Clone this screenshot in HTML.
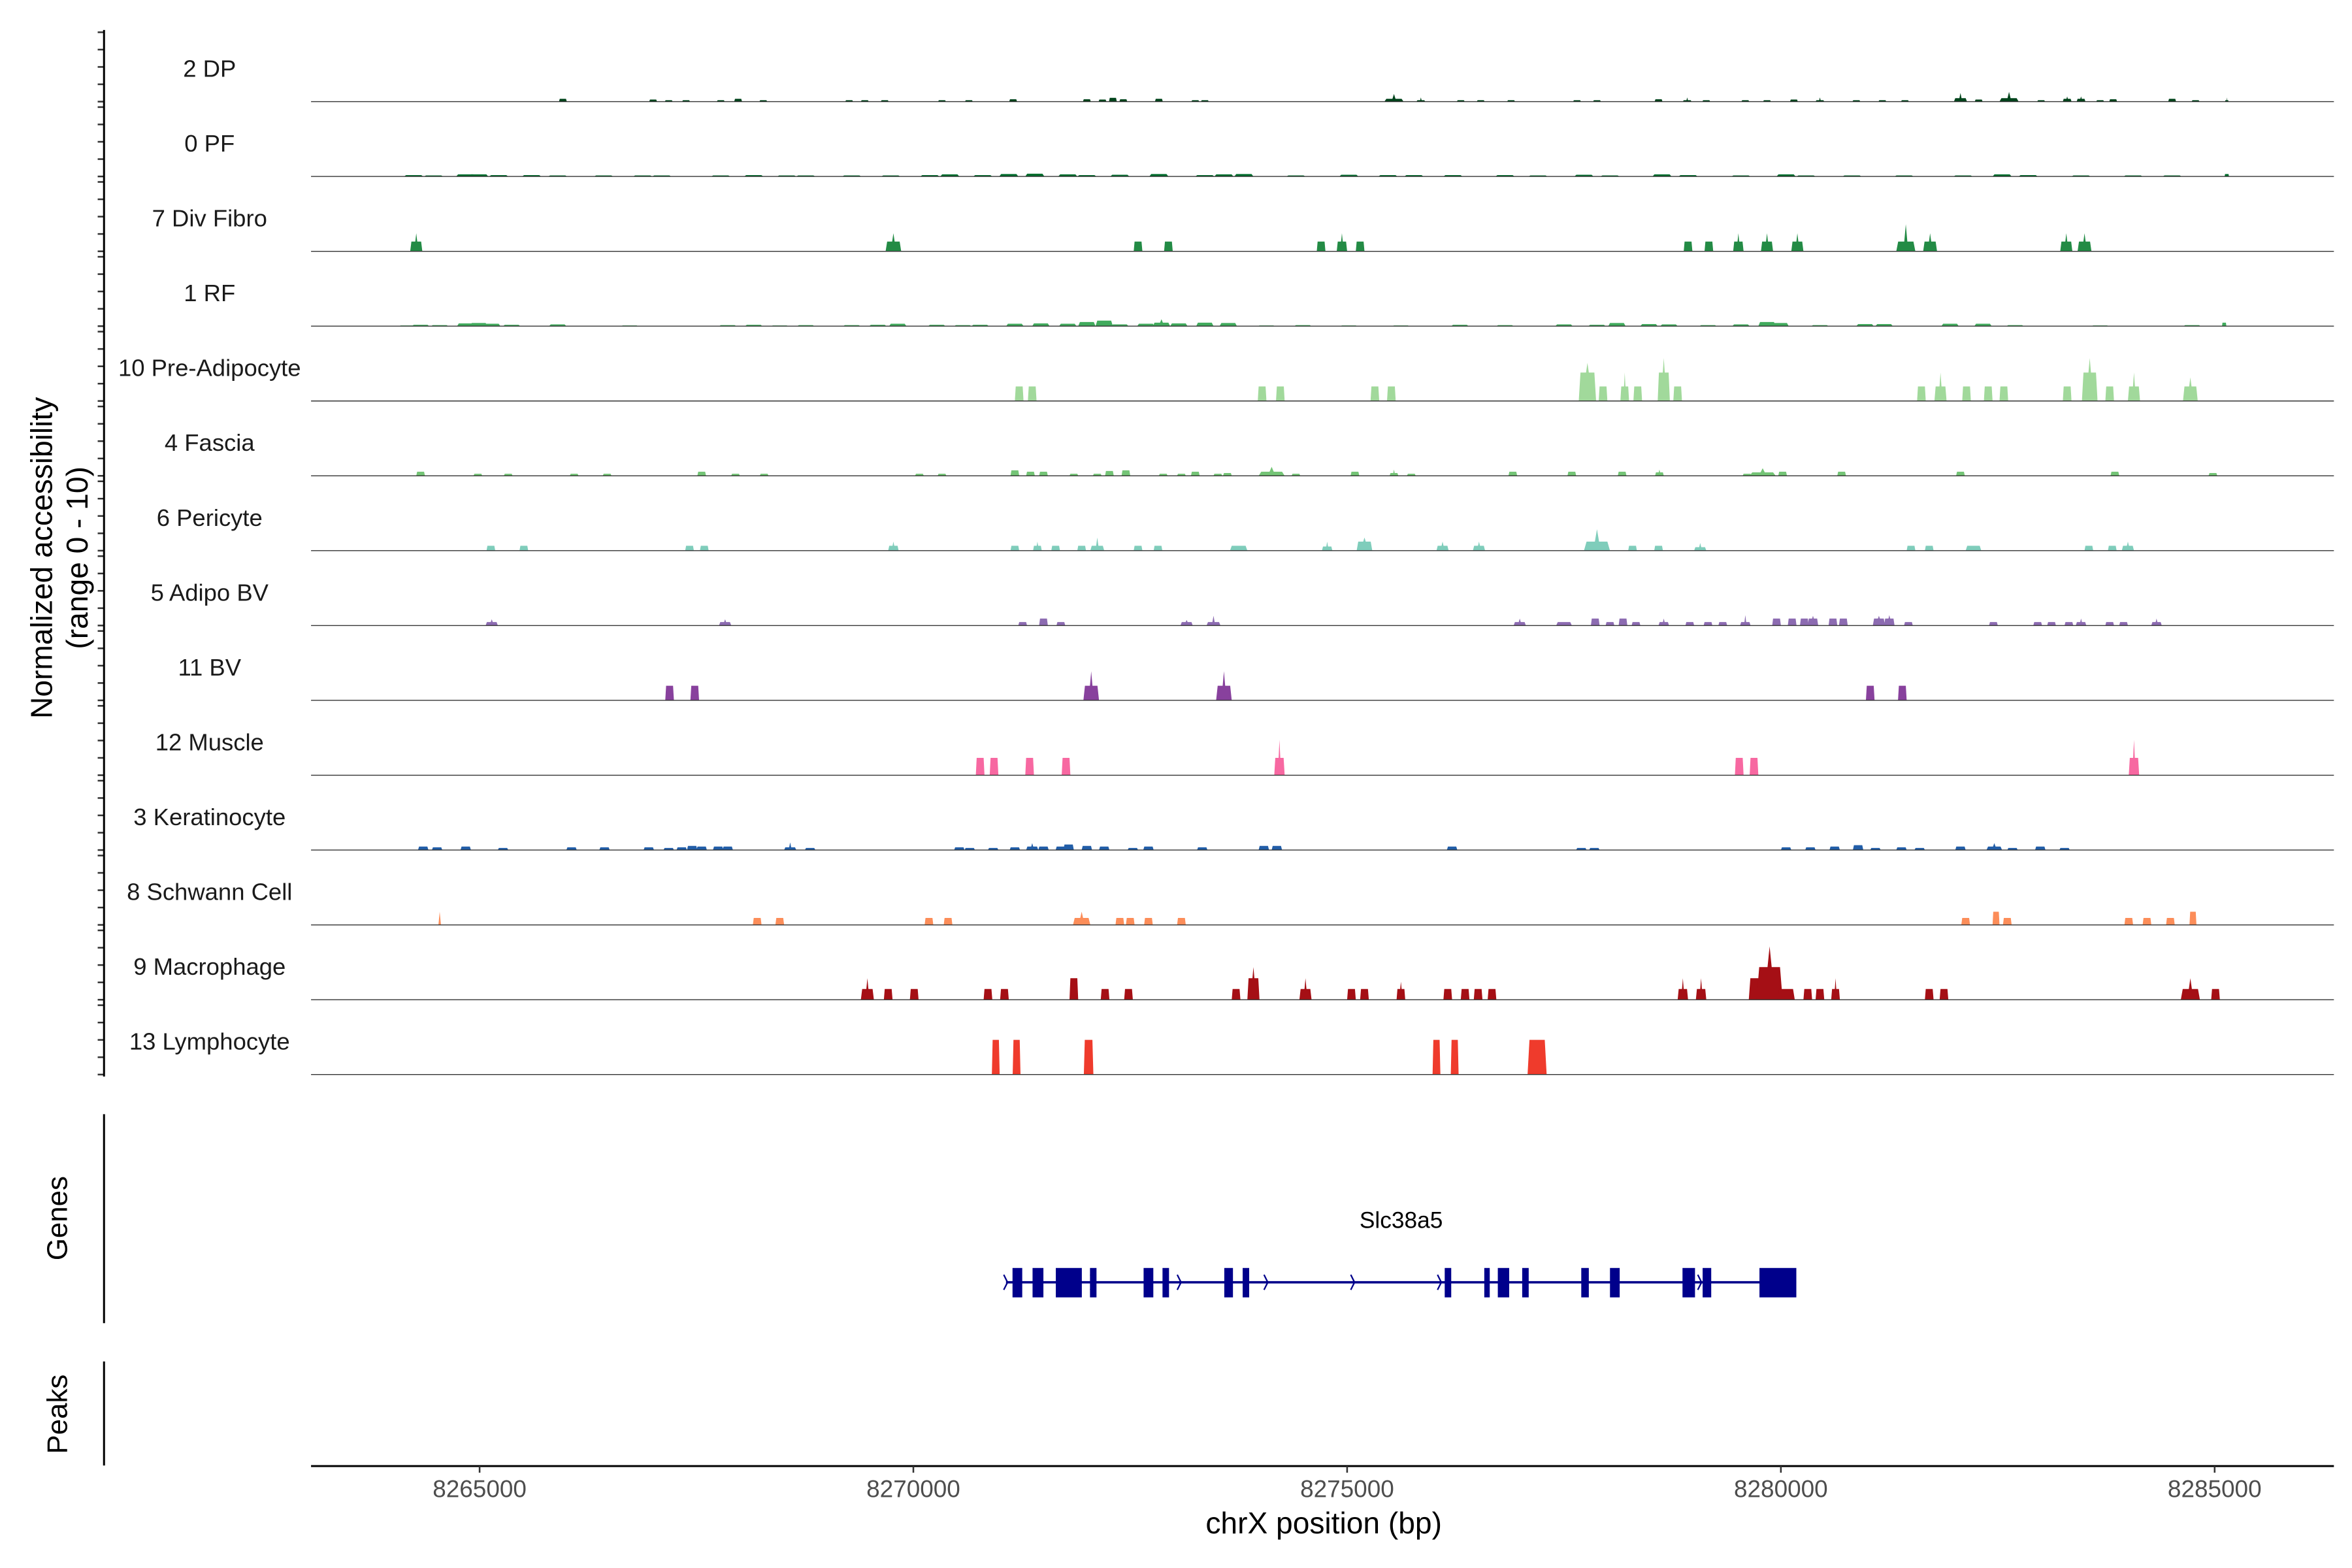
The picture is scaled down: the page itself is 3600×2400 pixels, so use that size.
<!DOCTYPE html>
<html><head><meta charset="utf-8">
<style>
html,body{margin:0;padding:0;background:#fff;}
svg{display:block;}
text{font-family:"Liberation Sans",Arial,sans-serif;}
</style></head>
<body>
<svg id="chart" xmlns="http://www.w3.org/2000/svg" width="3600" height="2400" viewBox="0 0 1560 1040">
<rect x="0" y="0" width="1560" height="1040" fill="#fff"/>
<g id="tracks"></g>
<g id="genes"></g>
<g id="axes"></g>
</svg>
<script>
// ---- data (genomic positions in kb, accessibility values 0-10) ----
const trackNames = ["2 DP","0 PF","7 Div Fibro","1 RF","10 Pre-Adipocyte","4 Fascia","6 Pericyte","5 Adipo BV","11 BV","12 Muscle","3 Keratinocyte","8 Schwann Cell","9 Macrophage","13 Lymphocyte"];
const trackColors = ["#00441b","#006d2c","#238b45","#41ab5d","#a1d99b","#74c476","#7fcdbb","#8c6bb1","#88419d","#f768a1","#225ea8","#fc8d59","#a50f15","#ef3b2c"];
const xTicks = [8265000,8270000,8275000,8280000,8285000];
const yRange = [0,10];

// peaks: [position kb, value, width kb (optional), plateau (optional)]
const peaksDP = [[8265.96,.4],[8267.00,.3],[8267.18,.2],[8267.38,.2],[8267.78,.2],[8267.98,.4],[8268.27,.2],[8269.26,.2],[8269.44,.2],[8269.67,.2],[8270.33,.2],[8270.64,.2],[8271.15,.35],[8272.00,.35],[8272.18,.3],[8272.30,.55],[8272.42,.35],[8272.83,.4],[8273.25,.2],[8273.36,.2],[8275.54,1.1,.22,.4],[8275.85,.6,.1,.2],[8276.31,.2],[8276.54,.2],[8276.89,.2],[8277.65,.2],[8277.88,.2],[8278.59,.35],[8278.92,.6,.1,.2],[8279.14,.2],[8279.59,.2],[8279.84,.2],[8280.15,.3],[8280.45,.6,.1,.2],[8280.87,.2],[8281.17,.2],[8281.43,.2],[8282.07,1.25,.15,.5],[8282.28,.3],[8282.63,1.4,.22,.5],[8283.00,.2],[8283.30,.75,.1,.4],[8283.46,.75,.1,.4],[8283.68,.2],[8283.83,.35],[8284.51,.4],[8284.78,.2],[8285.14,.6,.04,.2]];
const peaksPF = [[8264.24,.2],[8264.47,.15],[8264.84,.3],[8264.99,.3],[8265.22,.2],[8265.60,.2],[8265.90,.15],[8266.43,.15],[8266.88,.15],[8267.10,.15],[8267.78,.15],[8268.16,.2],[8268.54,.15],[8268.76,.15],[8269.29,.15],[8269.74,.15],[8270.19,.2],[8270.42,.3],[8270.80,.2],[8271.10,.35],[8271.40,.4],[8271.78,.3],[8272.00,.2],[8272.38,.25],[8272.83,.35],[8273.36,.2],[8273.58,.3],[8273.81,.35],[8274.41,.15],[8275.02,.25],[8275.47,.2],[8275.77,.2],[8276.22,.2],[8276.82,.2],[8277.20,.15],[8277.73,.25],[8278.03,.15],[8278.63,.3],[8278.93,.2],[8279.54,.15],[8280.06,.3],[8280.29,.15],[8280.82,.15],[8281.42,.15],[8282.10,.15],[8282.55,.3],[8282.85,.2],[8283.46,.15],[8284.06,.15],[8284.51,.15],[8285.14,.35,.05]];
const peaksDivFibro = [[8264.27,2.6,.14,1.4],[8269.77,2.6,.18,1.4],[8272.59,1.4],[8272.94,1.4],[8274.70,1.4],[8274.94,2.6,.12,1.4],[8275.15,1.4],[8278.93,1.4],[8279.17,1.4],[8279.51,2.6,.12,1.4],[8279.84,2.6,.14,1.4],[8280.19,2.6,.14,1.4],[8281.44,3.9,.22,1.4],[8281.72,2.6,.16,1.4],[8283.29,2.6,.14,1.4],[8283.50,2.6,.16,1.4]];
const peaksRF = [[8264.17,.1],[8264.32,.2],[8264.54,.15],[8264.84,.4],[8264.99,.45],[8265.14,.35],[8265.37,.2],[8265.90,.25],[8266.73,.1],[8267.86,.15],[8268.16,.2],[8268.46,.1],[8268.76,.15],[8269.29,.15],[8269.59,.2],[8269.82,.35],[8270.27,.2],[8270.57,.15],[8270.77,.2],[8271.17,.35],[8271.47,.4],[8271.78,.35],[8272.00,.6],[8272.20,.8],[8272.38,.25],[8272.68,.35],[8272.86,1.0,.2,.5],[8273.06,.4],[8273.36,.5],[8273.63,.45],[8274.07,.1],[8274.49,.15],[8275.02,.1],[8275.62,.1],[8276.30,.2],[8276.82,.15],[8277.50,.25],[8277.88,.2],[8278.11,.45],[8278.48,.3],[8278.71,.25],[8279.16,.15],[8279.54,.25],[8279.84,.6],[8279.99,.45],[8280.45,.15],[8280.97,.3],[8281.19,.3],[8281.95,.35],[8282.33,.35],[8282.70,.15],[8283.68,.1],[8284.74,.15],[8285.11,.5,.05]];
const peaksPreAdipo = [[8271.22,2.1],[8271.37,2.1],[8274.02,2.1],[8274.23,2.1],[8275.32,2.1],[8275.51,2.1],[8277.77,5.5,.2,4.1],[8277.95,2.1],[8278.20,4.1,.1,2.1],[8278.35,2.1],[8278.65,6.2,.14,4.1],[8278.81,2.1],[8281.62,2.1],[8281.84,4.1,.14,2.1],[8282.14,2.1],[8282.39,2.1],[8282.57,2.1],[8283.30,2.1],[8283.56,6.2,.18,4.1],[8283.79,2.1],[8284.07,4.1,.14,2.1],[8284.72,3.4,.17,2.1]];
const peaksFascia = [[8264.32,.6],[8264.98,.3],[8265.33,.3],[8266.09,.3],[8266.47,.3],[8267.56,.6],[8267.95,.3],[8268.28,.3],[8270.07,.3],[8270.33,.3],[8271.17,.8],[8271.35,.6],[8271.50,.6],[8271.85,.3],[8272.12,.3],[8272.26,.7],[8272.45,.8],[8272.88,.3],[8273.09,.3],[8273.25,.6],[8273.51,.3],[8273.62,.4],[8274.13,1.3,.3,.6],[8274.41,.3],[8275.09,.6],[8275.54,.9,.1,.4],[8275.74,.3],[8276.91,.6],[8277.59,.6],[8278.17,.6],[8278.60,.9,.1,.5],[8279.61,.3],[8279.79,1.1,.3,.5],[8280.02,.6],[8280.70,.6],[8282.07,.6],[8283.85,.6],[8284.98,.4]];
const peaksPericyte = [[8265.13,.7],[8265.51,.7],[8267.42,.7],[8267.59,.7],[8269.77,1.3,.12,.7],[8271.17,.7],[8271.43,1.3,.1,.7],[8271.64,.7],[8271.94,.7],[8272.12,1.9,.16,.7],[8272.59,.7],[8272.82,.7],[8273.75,.7,.2],[8274.77,1.3,.12,.6],[8275.20,1.9,.18,1.3],[8276.10,1.3,.14,.7],[8276.52,1.3,.14,.7],[8277.88,3.1,.3,1.3],[8278.29,.7],[8278.59,.7],[8279.07,1.1,.14,.5],[8281.50,.7],[8281.71,.7],[8282.22,.7,.18],[8283.55,.7],[8283.82,.7],[8284.00,1.3,.14,.7]];
const peaksAdipoBV = [[8265.14,.9,.14,.5],[8267.83,.9,.14,.5],[8271.26,.5],[8271.50,1.0],[8271.70,.5],[8273.15,.8,.14,.5],[8273.46,1.4,.16,.5],[8276.99,1.0,.14,.5],[8277.50,.5,.18],[8277.86,1.0],[8278.03,.5],[8278.18,1.0],[8278.33,.5],[8278.65,1.0,.12,.5],[8278.95,.5],[8279.16,.5],[8279.33,.5],[8279.59,1.5,.12,.5],[8279.95,1.0],[8280.13,1.0],[8280.27,1.0],[8280.37,1.4,.12,1.0],[8280.60,1.0],[8280.72,1.0],[8281.13,1.4,.14,1.0],[8281.25,1.5,.12,1.0],[8281.47,.5],[8282.45,.5],[8282.96,.5],[8283.12,.5],[8283.32,.5],[8283.46,1.0,.12,.5],[8283.79,.5],[8283.95,.5],[8284.33,1.0,.12,.5]];
const peaksBV = [[8267.19,2.1],[8267.48,2.1],[8272.05,4.2,.18,2.1],[8273.58,4.2,.18,2.1],[8281.03,2.1],[8281.40,2.1]];
const peaksMuscle = [[8270.77,2.5],[8270.93,2.5],[8271.34,2.5],[8271.76,2.5],[8274.22,5.1,.12,2.5],[8279.52,2.5],[8279.69,2.5],[8284.07,5.1,.12,2.5]];
const peaksKerat = [[8264.35,.5],[8264.51,.4],[8264.84,.5],[8265.27,.3],[8266.06,.4],[8266.44,.4],[8266.95,.4],[8267.18,.3],[8267.33,.4],[8267.45,.6],[8267.56,.5],[8267.75,.5],[8267.86,.5],[8268.58,1.1,.14,.4],[8268.81,.3],[8270.53,.4],[8270.65,.3],[8270.92,.3],[8271.17,.4],[8271.37,1.0,.14,.5],[8271.50,.5],[8271.70,.5],[8271.79,.8],[8272.00,.6],[8272.20,.5],[8272.53,.3],[8272.71,.5],[8273.33,.4],[8274.04,.6],[8274.19,.6],[8276.21,.5],[8277.70,.3],[8277.85,.3],[8280.06,.4],[8280.34,.4],[8280.62,.5],[8280.89,.7],[8281.09,.3],[8281.39,.4],[8281.60,.3],[8282.07,.5],[8282.46,1.0,.18,.5],[8282.67,.3],[8282.99,.5],[8283.27,.3]];
const peaksSchwann = [[8264.54,1.9,.18,0],[8268.20,1.0],[8268.46,1.0],[8270.18,1.0],[8270.40,1.0],[8271.94,1.9,.2,1.0],[8272.38,1.0],[8272.50,1.0],[8272.71,1.0],[8273.09,1.0],[8282.13,1.0],[8282.48,1.9,.08],[8282.61,1.0],[8284.01,1.0],[8284.22,1.0],[8284.49,1.0],[8284.75,1.9,.08]];
const peaksMacro = [[8269.47,3.1,.15,1.55],[8269.71,1.55],[8270.01,1.55],[8270.86,1.55],[8271.05,1.55],[8271.85,3.1,.1,3.1],[8272.21,1.55],[8272.48,1.55],[8273.72,1.55],[8273.92,4.7,.14,3.1],[8274.52,3.1,.14,1.55],[8275.05,1.55],[8275.20,1.55],[8275.62,2.6,.1,1.55],[8276.16,1.55],[8276.36,1.55],[8276.51,1.55],[8276.67,1.55],[8278.87,3.1,.12,1.55],[8279.08,3.1,.12,1.55],[8279.72,3.1,.18],[8279.87,7.7,.3,4.7],[8280.06,1.55,.2],[8280.31,1.55],[8280.45,1.55],[8280.63,3.1,.1,1.55],[8281.71,1.55],[8281.88,1.55],[8284.72,3.1,.22,1.55],[8285.01,1.55]];
const peaksLympho = [[8270.95,5.0,.09],[8271.19,5.0,.09],[8272.02,5.0,.11],[8276.03,5.0,.09],[8276.24,5.0,.09],[8277.19,5.0,.22]];
const allPeaks = [peaksDP,peaksPF,peaksDivFibro,peaksRF,peaksPreAdipo,peaksFascia,peaksPericyte,peaksAdipoBV,peaksBV,peaksMuscle,peaksKerat,peaksSchwann,peaksMacro,peaksLympho];
const defaultWidth = [.09,.22,.1,.2,.1,.1,.1,.1,.1,.1,.12,.1,.1,.1];

// gene model (kb)
const geneName = "Slc38a5";
const geneSpan = [8271.068,8280.178];
const exonStarts = [8271.143,8271.374,8271.642,8272.036,8272.654,8272.872,8273.584,8273.796,8276.125,8276.581,8276.737,8277.018,8277.699,8278.030,8278.866,8279.098,8279.753];
const exonEnds   = [8271.255,8271.499,8271.942,8272.111,8272.766,8272.947,8273.684,8273.871,8276.200,8276.644,8276.868,8277.093,8277.786,8278.142,8279.010,8279.197,8280.178];

// ---- layout / scales ----
const NS = "http://www.w3.org/2000/svg";
const X0 = 318.1, PXKB = 57.54;
function xs(kb){ return X0 + (kb - 8265) * PXKB; }
const BASE0 = 67.4, STEP = 49.64, PXU = 4.6;
function base(i){ return BASE0 + i * STEP; }
function ys(i, v){ return base(i) - (v - yRange[0]) * PXU; }
const PLOT_L = 206.3, PLOT_R = 1548;

function mk(tag, attrs, parent){
  const el = document.createElementNS(NS, tag);
  for (const k in attrs) el.setAttribute(k, attrs[k]);
  parent.appendChild(el);
  return el;
}
const gT = document.getElementById('tracks');
const gG = document.getElementById('genes');
const gA = document.getElementById('axes');

// tracks
trackNames.forEach((name, i) => {
  const b = base(i);
  const lab = mk('text', {x: 139, y: b - 16.5, 'text-anchor': 'middle', 'font-size': 15.8, fill: '#1a1a1a'}, gT);
  lab.textContent = name;
  
  
  allPeaks[i].forEach(pk => {
    const c = xs(pk[0]);
    const v = pk[1];
    const w = (pk[2] !== undefined ? pk[2] : defaultWidth[i]) * PXKB;
    const p = pk[3] !== undefined ? pk[3] : v;
    const x0 = c - w / 2, x1 = c + w / 2;
    const yb = b, yp = ys(i, p), yv = ys(i, v);
    const pts = [[x0, yb], [x0 + 0.1 * w, yp], [c - 0.08 * w, yp], [c, yv], [c + 0.08 * w, yp], [x1 - 0.1 * w, yp], [x1, yb]];
    const poly = mk('polygon', {points: pts.map(q => q[0].toFixed(2) + ',' + q[1].toFixed(2)).join(' '), fill: trackColors[i]}, gT);
    
    
  });
  const bl = mk('line', {x1: PLOT_L, x2: PLOT_R, y1: b, y2: b, stroke: '#333', 'stroke-width': 0.6}, gT);
  
  
  for (let k = 0; k <= 4; k++) {
    const ty = ys(i, yRange[0] + (yRange[1] - yRange[0]) * k / 4);
    const t = mk('line', {x1: 64.8, x2: 69, y1: ty, y2: ty, stroke: '#333', 'stroke-width': 1.1}, gA);
    
    
  }
});

// gene model
const gy = 850.5;
const gl = mk('line', {x1: xs(geneSpan[0]), x2: xs(geneSpan[1]), y1: gy, y2: gy, stroke: '#00008b', 'stroke-width': 1.6}, gG);


for (let kb = geneSpan[0]; kb < geneSpan[1]; kb += 1.0) {
  const cx = xs(kb) + 1;
  const ch = mk('polyline', {points: (cx-2.5)+','+(gy-5)+' '+cx+','+gy+' '+(cx-2.5)+','+(gy+5), fill: 'none', stroke: '#00008b', 'stroke-width': 1}, gG);
  
  
}
exonStarts.forEach((s, j) => {
  const ex = mk('rect', {x: xs(s), y: 841, width: Math.max(1.5, xs(exonEnds[j]) - xs(s)), height: 19.5, fill: '#00008b'}, gG);
  
  
});
const gn = mk('text', {x: (xs(geneSpan[0]) + xs(geneSpan[1])) / 2, y: 814.5, 'text-anchor': 'middle', 'font-size': 15.3, fill: '#000'}, gG);
gn.textContent = geneName;



// axes
function line(x1,y1,x2,y2,sw,col,name){
  const l = mk('line', {x1:x1,y1:y1,x2:x2,y2:y2,stroke:col,'stroke-width':sw}, gA);
  
  
  return l;
}
line(69, 19.9, 69, 714, 1.3, '#000', 'y-axis-line');
line(69, 739, 69, 877.6, 1.3, '#000', 'genes-axis-line');
line(69, 903, 69, 972, 1.3, '#000', 'peaks-axis-line');
line(PLOT_L, 972.4, PLOT_R, 972.4, 1.3, '#000', 'x-axis-line');
xTicks.forEach(t => {
  const x = xs(t / 1000);
  line(x, 972.4, x, 976.8, 1.1, '#333', 'x-tick');
  const tl = mk('text', {x: x, y: 993, 'text-anchor': 'middle', 'font-size': 16, fill: '#4d4d4d'}, gA);
  tl.textContent = String(t);
  
  
});
function txt(str, x, y, size, name, rot){
  const t = mk('text', {x: x, y: y, 'text-anchor': 'middle', 'font-size': size, fill: '#000'}, gA);
  if (rot) t.setAttribute('transform', 'rotate(-90 ' + x + ' ' + y + ')');
  t.textContent = str;
  
  
}
txt('chrX position (bp)', 878, 1017, 20, 'x-axis-title', false);
txt('Normalized accessibility', 34.5, 370, 20, 'y-axis-title', true);
txt('(range 0 - 10)', 58, 370, 20, 'y-axis-subtitle', true);
txt('Genes', 44.5, 808, 19, 'genes-title', true);
txt('Peaks', 44.5, 938, 19, 'peaks-title', true);
</script>
</body></html>
